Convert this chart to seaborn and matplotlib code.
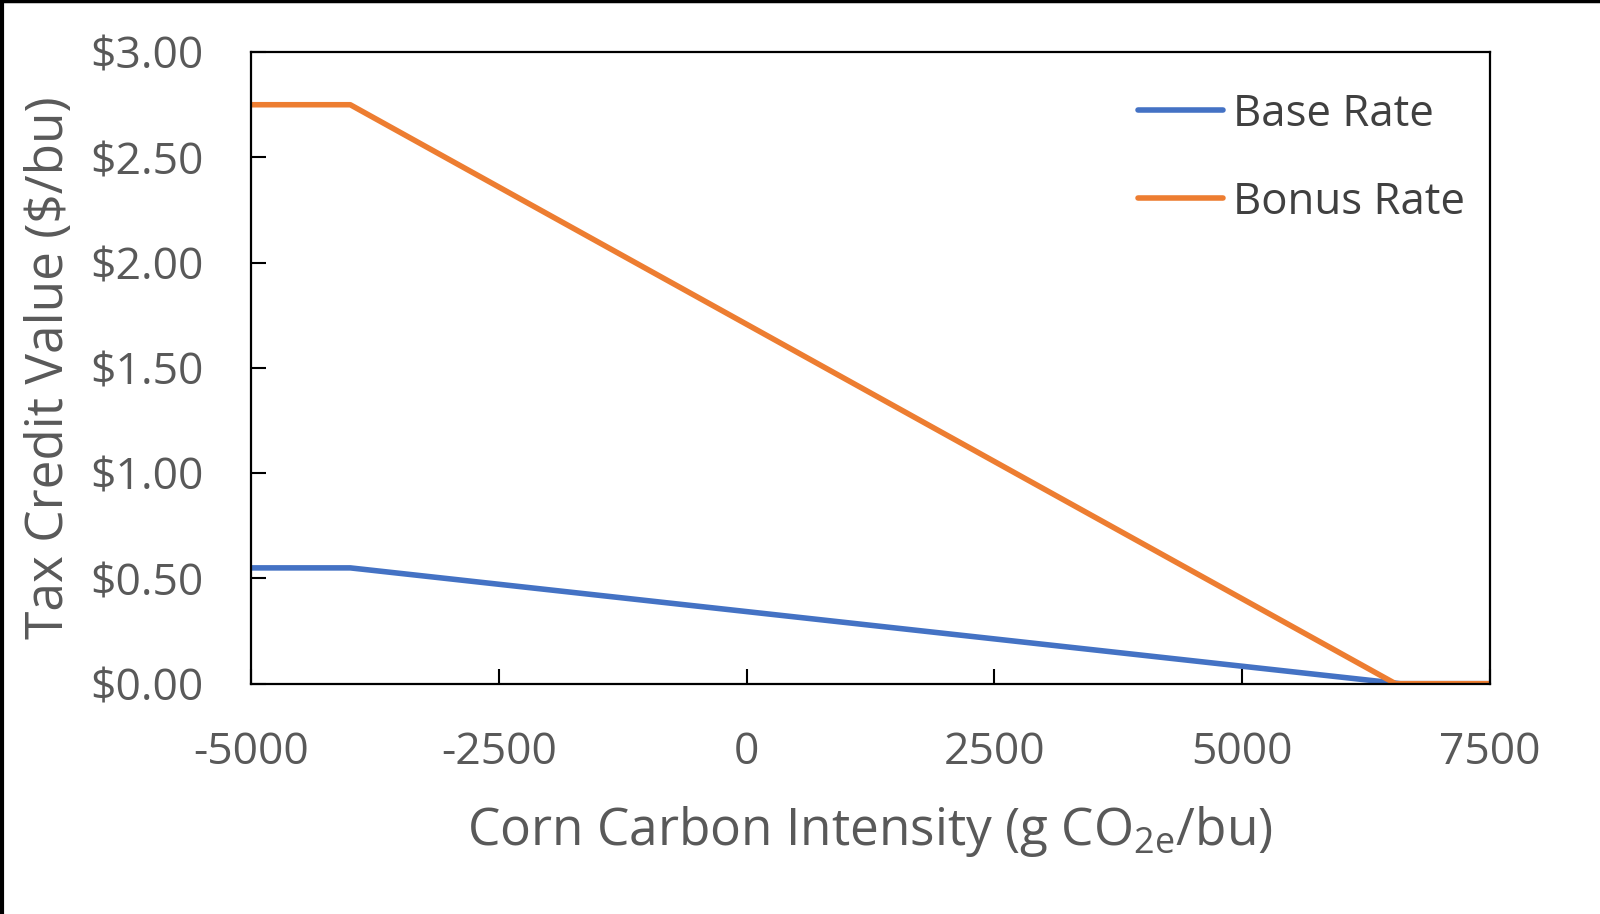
import matplotlib
matplotlib.use("Agg")
import matplotlib.pyplot as plt
import seaborn as sns
import pandas as pd
from matplotlib.lines import Line2D
from matplotlib.ticker import FuncFormatter

# ---- data ----
ci_base = [-5000, -4000, 6600, 7500]
base_rate = [0.55, 0.55, 0.0, 0.0]
ci_bonus = [-5000, -4000, 6550, 7500]
bonus_rate = [2.75, 2.75, 0.0, 0.0]
x_ticks = [-5000, -2500, 0, 2500, 5000, 7500]
y_ticks = [0.0, 0.5, 1.0, 1.5, 2.0, 2.5, 3.0]
series_names = ["Base Rate", "Bonus Rate"]
series_colors = ["#4472C4", "#ED7D31"]

df = pd.concat([
    pd.DataFrame({"ci": ci_base, "value": base_rate, "series": series_names[0]}),
    pd.DataFrame({"ci": ci_bonus, "value": bonus_rate, "series": series_names[1]}),
])

sns.set_theme(style="white")
plt.rcParams["font.family"] = ["Open Sans", "DejaVu Sans"]
plt.rcParams["mathtext.fontset"] = "custom"
plt.rcParams["mathtext.rm"] = "Open Sans"
plt.rcParams["mathtext.default"] = "regular"
plt.rcParams["axes.unicode_minus"] = False

TXT = "#595959"

fig = plt.figure(figsize=(16, 9.14), dpi=100)
ax = fig.add_axes([0.157, 0.252, 0.774, 0.691])

sns.lineplot(data=df, x="ci", y="value", hue="series", palette=series_colors,
             hue_order=series_names, linewidth=4, ax=ax, sort=False,
             estimator=None)
for ln in ax.get_lines():
    ln.set_solid_joinstyle("round")

ax.set_xlim(-5000, 7500)
ax.set_ylim(0, 3.0)
ax.set_xticks(x_ticks)
ax.set_yticks(y_ticks)
ax.yaxis.set_major_formatter(FuncFormatter(lambda v, p: f"${v:.2f}"))

for s in ax.spines.values():
    s.set_visible(True)
    s.set_color("black")
    s.set_linewidth(1.6)

ax.tick_params(axis="both", direction="in", length=11, width=1.5, color="black",
               labelsize=32, labelcolor=TXT, pad=34)
ax.tick_params(axis="x", bottom=True, top=False)
ax.tick_params(axis="y", left=True, right=False)

ax.set_xlabel(r"Corn Carbon Intensity (g CO$_{2e}$/bu)", fontsize=37, color=TXT)
ax.set_ylabel("Tax Credit Value ($/bu)", fontsize=37, color=TXT)
ax.xaxis.set_label_coords(0.5, -0.19)
ax.yaxis.set_label_coords(-0.142, 0.5)

handles, labels = ax.get_legend_handles_labels()
leg = ax.legend(handles, labels, loc="upper left",
                bbox_to_anchor=(1138 / 1600, 1 - 92 / 914),
                bbox_transform=fig.transFigure, frameon=False, fontsize=31.5,
                handlelength=1.95, handletextpad=0.22, labelspacing=1.0,
                borderpad=0, borderaxespad=0)
for t in leg.get_texts():
    t.set_color("#404040")
for h in leg.get_lines():
    h.set_linewidth(4)
    h.set_solid_capstyle("round")

# figure frame (top and left edges as in the reference crop)
fig.add_artist(Line2D([0, 1], [0.9985, 0.9985], transform=fig.transFigure,
                      color="black", linewidth=2.5))
fig.add_artist(Line2D([0.001, 0.001], [0, 1], transform=fig.transFigure,
                      color="black", linewidth=3))

fig.savefig("out.png", dpi=100, facecolor="white")
